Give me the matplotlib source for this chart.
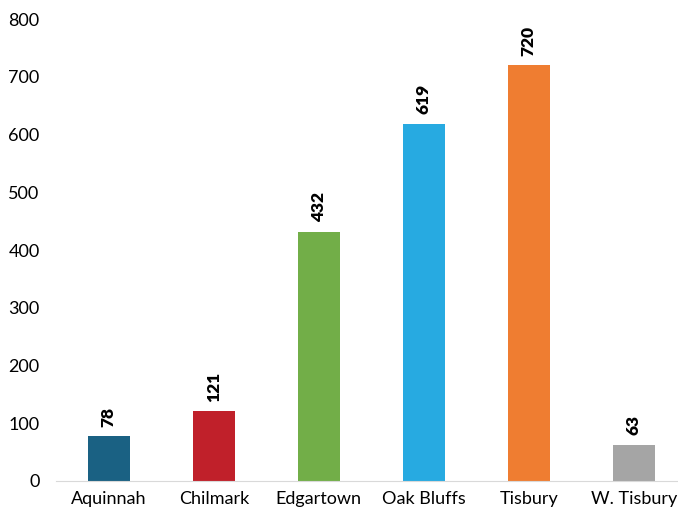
import matplotlib.pyplot as plt

towns = ["Aquinnah", "Chilmark", "Edgartown", "Oak Bluffs", "Tisbury", "W. Tisbury"]
counts = [78, 121, 432, 619, 720, 63]
colors = ["#1a6183", "#c0202a", "#72ae48", "#27aae1", "#ef7d31", "#a5a5a5"]

plt.rcParams['font.family'] = ['Lato', 'DejaVu Sans']

fig = plt.figure(figsize=(6.78, 5.16), dpi=100)
ax = fig.add_axes([0.083, 0.068, 0.917, 0.895])

x = range(len(towns))
bars = ax.bar(x, counts, width=0.4, color=colors)

for b, v in zip(bars, counts):
    ax.text(b.get_x() + b.get_width() / 2, v + 16, str(v), rotation=90,
            ha='center', va='bottom', fontsize=12.5, fontweight='heavy')

ax.set_xlim(-0.5, 5.42)
ax.set_ylim(0, 800)
ax.set_xticks(list(x))
ax.set_xticklabels(towns)
ax.set_yticks(range(0, 801, 100))
ax.tick_params(axis='both', length=0, labelsize=13)
ax.tick_params(axis='y', pad=12)
ax.tick_params(axis='x', pad=7)

for s in ['top', 'right', 'left']:
    ax.spines[s].set_visible(False)
ax.spines['bottom'].set_color('#d9d9d9')

fig.savefig("out.png")
